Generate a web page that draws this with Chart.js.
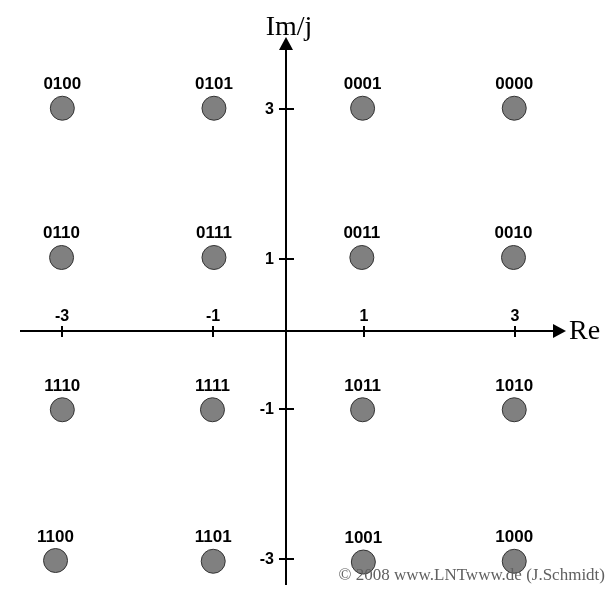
<!DOCTYPE html>
<html>
<head>
<meta charset="utf-8">
<script src="https://cdn.jsdelivr.net/npm/chart.js@4/dist/chart.umd.min.js"></script>
<style>
  html, body { margin: 0; padding: 0; background: #fff; }
  #wrap { width: 613px; height: 599px; }
</style>
</head>
<body>
<div id="wrap"><canvas id="c" width="613" height="599"></canvas></div>
<script>
// 16-QAM symbols (Gray coded)
const bitLabels = ["0100", "0101", "0001", "0000",
                   "0110", "0111", "0011", "0010",
                   "1110", "1111", "1011", "1010",
                   "1100", "1101", "1001", "1000"];
const reVals = [-3, -0.99, 0.98, 2.99,
                -3.01, -0.99, 0.97, 2.98,
                -3, -1.01, 0.98, 2.99,
                -3.09, -1, 0.99, 2.99];
const imVals = [3.01, 3.01, 3.01, 3.01,
                1.02, 1.02, 1.02, 1.02,
                -1.01, -1.01, -1.01, -1.01,
                -3.02, -3.03, -3.04, -3.03];
const xTicks = [-3, -1, 1, 3];
const yTicks = [3, 1, -1, -3];

const points = reVals.map((r, i) => ({ x: r, y: imVals[i] }));

// draws the cross of axes, ticks, arrows and texts
const axesPlugin = {
  id: "axes",
  beforeDatasetsDraw(chart) {
    const ctx = chart.ctx;
    const xs = chart.scales.x, ys = chart.scales.y;
    // the drawn axes sit a little off the exact origin in the original
    const x0 = Math.round(xs.getPixelForValue(-0.035));
    const y0 = Math.round(ys.getPixelForValue(0.04));
    ctx.save();
    ctx.strokeStyle = "#000";
    ctx.fillStyle = "#000";
    ctx.lineWidth = 2;

    // horizontal axis
    const xEnd = 566;
    ctx.beginPath();
    ctx.moveTo(20, y0);
    ctx.lineTo(xEnd - 10, y0);
    ctx.stroke();
    ctx.beginPath();
    ctx.moveTo(xEnd, y0);
    ctx.lineTo(xEnd - 13, y0 - 7);
    ctx.lineTo(xEnd - 13, y0 + 7);
    ctx.closePath();
    ctx.fill();

    // vertical axis
    const yEnd = 37;
    ctx.beginPath();
    ctx.moveTo(x0, 585);
    ctx.lineTo(x0, yEnd + 10);
    ctx.stroke();
    ctx.beginPath();
    ctx.moveTo(x0, yEnd);
    ctx.lineTo(x0 - 7, yEnd + 13);
    ctx.lineTo(x0 + 7, yEnd + 13);
    ctx.closePath();
    ctx.fill();

    // ticks
    ctx.font = "bold 16px 'Liberation Sans', Arial, sans-serif";
    ctx.textAlign = "center";
    ctx.textBaseline = "alphabetic";
    xTicks.forEach(v => {
      const px = Math.round(xs.getPixelForValue(v));
      ctx.beginPath();
      ctx.moveTo(px, y0 - 5);
      ctx.lineTo(px, y0 + 6);
      ctx.stroke();
      ctx.fillText(String(v), px, y0 - 10);
    });
    ctx.textAlign = "right";
    ctx.textBaseline = "middle";
    yTicks.forEach(v => {
      const py = Math.round(ys.getPixelForValue(v));
      ctx.beginPath();
      ctx.moveTo(x0 - 7, py);
      ctx.lineTo(x0 + 8, py);
      ctx.stroke();
      ctx.fillText(String(v), x0 - 12, py + 1);
    });

    // axis names
    ctx.font = "28px 'Liberation Serif', 'Times New Roman', serif";
    ctx.textAlign = "left";
    ctx.textBaseline = "alphabetic";
    ctx.fillText("Re", xEnd + 3, y0 + 8);
    ctx.textAlign = "center";
    ctx.fillText("Im/j", x0 + 3, 35);
    ctx.restore();
  },
  afterDatasetsDraw(chart) {
    const ctx = chart.ctx;
    const meta = chart.getDatasetMeta(0);
    ctx.save();
    ctx.font = "bold 17px 'Liberation Sans', Arial, sans-serif";
    ctx.fillStyle = "#000";
    ctx.textAlign = "center";
    ctx.textBaseline = "alphabetic";
    meta.data.forEach((el, i) => {
      ctx.fillText(bitLabels[i], el.x, el.y - 19);
    });

    // copyright, on top of the bottom row
    ctx.font = "17px 'Liberation Serif', 'Times New Roman', serif";
    ctx.fillStyle = "#606060";
    ctx.textAlign = "right";
    ctx.fillText("\u00a9 2008 www.LNTwww.de (J.Schmidt)", 605, 580);
    ctx.restore();
  }
};

new Chart(document.getElementById("c"), {
  type: "scatter",
  data: {
    datasets: [{
      data: points,
      pointRadius: 12,
      pointBackgroundColor: "#808080",
      pointBorderColor: "#333333",
      pointBorderWidth: 1,
      pointHoverRadius: 12
    }]
  },
  options: {
    responsive: false,
    animation: false,
    events: [],
    layout: { padding: 0, autoPadding: false },
    plugins: { legend: { display: false }, tooltip: { enabled: false } },
    scales: {
      x: { type: "linear", min: -3.826, max: 4.299, display: false },
      y: { type: "linear", min: -3.533, max: 4.453, display: false }
    }
  },
  plugins: [axesPlugin]
});
</script>
</body>
</html>
